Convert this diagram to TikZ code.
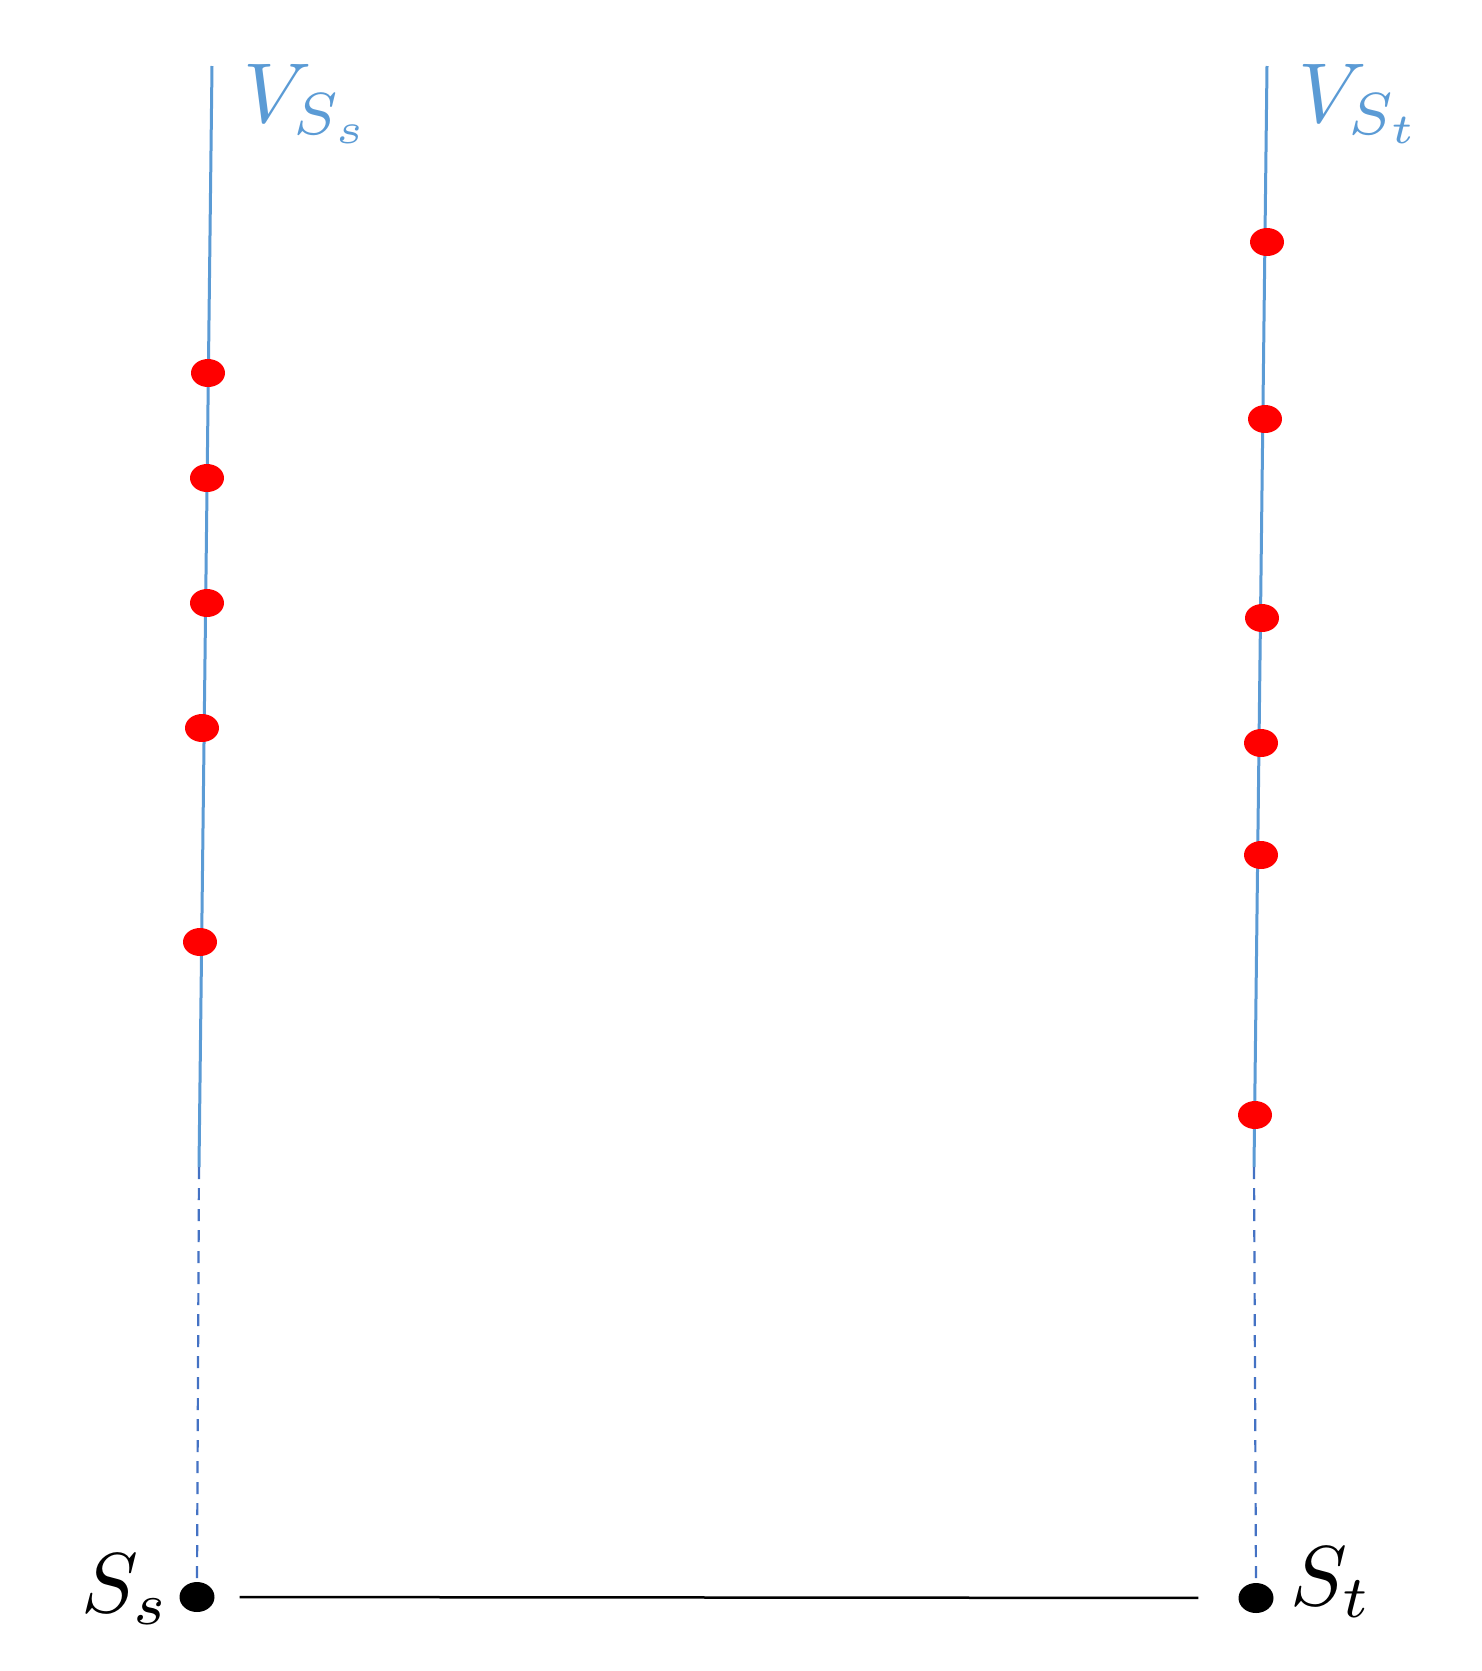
\documentclass[tikz,border=0pt]{standalone}
\usetikzlibrary{shapes.geometric}
\definecolor{lineblue}{HTML}{5B9BD5}
\definecolor{dashblue}{HTML}{4472C4}
\begin{document}
\begin{tikzpicture}[x=1pt,y=-1pt,
 reddot/.style={ellipse,fill=red,minimum width=34pt,minimum height=28pt,inner sep=0pt},
 blackdot/.style={ellipse,fill=black,minimum width=35pt,minimum height=30pt,inner sep=0pt},
 vline/.style={lineblue,line width=3pt},
 dline/.style={dashblue,line width=2.2pt,dash pattern=on 12pt off 9pt},
 big/.style={scale=8.5,inner sep=0pt}]
\useasboundingbox[fill=white] (0,0) rectangle (1481,1671);
% axes
\coordinate (ltop) at (212,66);
\coordinate (lbot) at (199,1167);
\coordinate (rtop) at (1267,66);
\coordinate (rbot) at (1254,1167);
\node[blackdot] (bs) at (197,1597) {};
\node[blackdot] (bt) at (1256,1598) {};
\draw[vline] (ltop) -- (lbot);
\draw[vline] (rtop) -- (rbot);
\draw[dline] (lbot) -- (bs.north);
\draw[dline] (rbot) -- (bt.north);
\draw[black,line width=2.5pt,shorten <=25pt,shorten >=40pt] (bs) -- (bt);
% red dots left
\node[reddot] (l1) at (208,373) {};
\node[reddot] (l2) at (207,478) {};
\node[reddot] (l3) at (207,603) {};
\node[reddot] (l4) at (202,728) {};
\node[reddot] (l5) at (200,942) {};
% red dots right
\node[reddot] (r1) at (1267,242) {};
\node[reddot] (r2) at (1265,419) {};
\node[reddot] (r3) at (1262,618) {};
\node[reddot] (r4) at (1261,743) {};
\node[reddot] (r5) at (1261,855) {};
\node[reddot] (r6) at (1255,1115) {};
% labels
\node[big,text=lineblue,anchor=base west] (vs) at (242,122) {$V_{S_s}$};
\node[big,text=lineblue,anchor=base west] (vt) at (1297,122) {$V_{S_t}$};
\node[big,anchor=base west] (ls) at (80,1612) {$S_s$};
\node[big,anchor=base west] (lt) at (1289,1605) {$S_t$};
\end{tikzpicture}
\end{document}
